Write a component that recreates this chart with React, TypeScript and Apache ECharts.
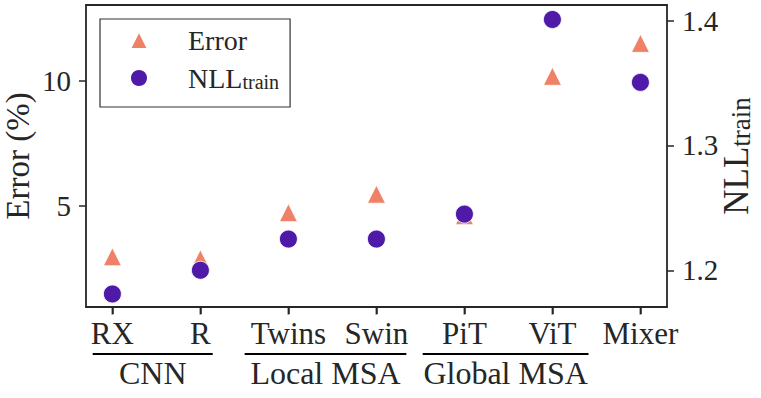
import React, { useEffect, useRef } from "react";
import * as echarts from "echarts";

const categories = ["RX", "R", "Twins", "Swin", "PiT", "ViT", "Mixer"];
const errorValues = [2.95, 2.87, 4.72, 5.46, 4.6, 10.19, 11.51];
const nllValues = [1.181, 1.2, 1.225, 1.225, 1.245, 1.401, 1.3506];
const errorTicks = [5, 10];
const nllTicks = [1.2, 1.3, 1.4];
const groupNames = ["CNN", "Local MSA", "Global MSA"];
const groupStart = [-0.224, 1.503, 3.526];
const groupEnd = [1.14, 3.34, 5.41];

const FONT = "Liberation Serif";
const TXT = "#262626";
const ERR_COLOR = "#EE8166";
const NLL_COLOR = "#4F1AA8";

const legendRich = {
  a: { fontFamily: FONT, fontSize: 28, color: TXT, lineHeight: 28, verticalAlign: "top" },
  b: { fontFamily: FONT, fontSize: 20, color: TXT, lineHeight: 14, verticalAlign: "bottom" },
};
const nameRich = {
  a: { fontFamily: FONT, fontSize: 35, color: TXT, lineHeight: 35, verticalAlign: "top" },
  b: { fontFamily: FONT, fontSize: 27, color: TXT, lineHeight: 16, verticalAlign: "bottom" },
};

const axisLineStyle = { show: true, lineStyle: { color: TXT, width: 1.8 } };
const tickStyle = { show: true, length: 7, lineStyle: { color: TXT, width: 1.5 } };

export default function App() {
  const ref = useRef<HTMLDivElement>(null);
  useEffect(() => {
    if (!ref.current) return;
    const chart = echarts.init(ref.current, null, { renderer: "svg" });
    const xIdx = categories.map((_, i) => i);
    const option: any = {
      animation: false,
      textStyle: { fontFamily: FONT },
      grid: { left: 86, right: 94, top: 5, bottom: 91, containLabel: false, outerBoundsMode: "none" },
      legend: {
        orient: "vertical",
        left: 100,
        top: 19,
        padding: [7, 11, 15, 29],
        itemWidth: 18,
        itemHeight: 18,
        itemGap: 10,
        borderColor: "#333",
        borderWidth: 1.2,
        data: [
          { name: "Error", icon: "triangle" },
          { name: "NLL_train", icon: "circle" },
        ],
        formatter: (name: string) => (name === "NLL_train" ? "{a|NLL}{b|train}" : "{a|Error}"),
        textStyle: { fontFamily: FONT, fontSize: 28, color: TXT, padding: [0, 0, 0, 35], rich: legendRich },
      },
      xAxis: [
        {
          type: "value",
          min: -0.3,
          max: 6.302,
          position: "bottom",
          splitLine: { show: false },
          axisLine: { ...axisLineStyle, onZero: false },
          axisTick: { ...tickStyle, customValues: xIdx },
          axisLabel: {
            customValues: xIdx,
            margin: 11,
            fontFamily: FONT,
            fontSize: 31,
            color: TXT,
            formatter: (v: number) => categories[Math.round(v)] ?? "",
          },
        },
        {
          type: "value",
          min: -0.3,
          max: 6.302,
          position: "top",
          splitLine: { show: false },
          axisLine: { ...axisLineStyle, onZero: false },
          axisTick: { show: false },
          axisLabel: { show: false },
        },
      ],
      yAxis: [
        {
          type: "value",
          min: 0.937,
          max: 13.048,
          position: "left",
          splitLine: { show: false },
          axisLine: { ...axisLineStyle, onZero: false },
          axisTick: { ...tickStyle, customValues: errorTicks },
          axisLabel: { customValues: errorTicks, margin: 15, fontFamily: FONT, fontSize: 29, color: TXT },
          name: "Error (%)",
          nameLocation: "middle",
          nameRotate: 90,
          nameGap: 52,
          nameMoveOverlap: false,
          nameTextStyle: { fontFamily: FONT, fontSize: 33, color: TXT },
        },
        {
          type: "value",
          min: 1.17056,
          max: 1.4126,
          position: "right",
          splitLine: { show: false },
          axisLine: { ...axisLineStyle, onZero: false },
          axisTick: { ...tickStyle, customValues: nllTicks },
          axisLabel: {
            customValues: nllTicks,
            margin: 15,
            fontFamily: FONT,
            fontSize: 29,
            color: TXT,
            formatter: (v: number) => v.toFixed(1),
          },
          name: "{a|NLL}{b|train}",
          nameLocation: "middle",
          nameRotate: 90,
          nameGap: 52,
          nameMoveOverlap: false,
          nameTextStyle: { fontFamily: FONT, fontSize: 35, color: TXT, rich: nameRich },
        },
      ],
      series: [
        {
          name: "Error",
          type: "scatter",
          xAxisIndex: 0,
          yAxisIndex: 0,
          symbol: "triangle",
          symbolSize: 18,
          itemStyle: { color: ERR_COLOR, borderColor: "#fff", borderWidth: 0.8, opacity: 1 },
          data: errorValues.map((v, i) => [i, v]),
        },
        {
          name: "NLL_train",
          type: "scatter",
          xAxisIndex: 0,
          yAxisIndex: 1,
          symbol: "circle",
          symbolSize: 18,
          itemStyle: { color: NLL_COLOR, borderColor: "#fff", borderWidth: 0.8, opacity: 1 },
          data: nllValues.map((v, i) => [i, v]),
        },
      ],
    };
    chart.setOption(option);

    const px = (x: number) => chart.convertToPixel({ xAxisIndex: 0 }, x) as number;
    const yBottom = chart.convertToPixel({ yAxisIndex: 0 }, 0.937) as number;
    const graphics: any[] = [];
    xIdx.forEach((i) => {
      const x = px(i);
      graphics.push({
        type: "rect",
        shape: { x: x - 0.8, y: yBottom, width: 1.6, height: 7.5 },
        style: { fill: TXT },
        z: 10,
      });
    });
    groupNames.forEach((g, i) => {
      const x1 = px(groupStart[i]);
      const x2 = px(groupEnd[i]);
      graphics.push({
        type: "line",
        shape: { x1, y1: 354, x2, y2: 354 },
        style: { stroke: "#000", lineWidth: 2 },
      });
      graphics.push({
        type: "text",
        x: (x1 + x2) / 2,
        y: 373.2,
        style: {
          text: g,
          fontFamily: FONT,
          fontSize: 32,
          fill: TXT,
          align: "center",
          verticalAlign: "middle",
        },
      });
    });
    chart.setOption({ graphic: graphics });

    return () => chart.dispose();
  }, []);

  return (
    <div
      ref={ref}
      style={{ position: "fixed", left: 0, top: 0, width: 761, height: 398, background: "#fff" }}
    />
  );
}
